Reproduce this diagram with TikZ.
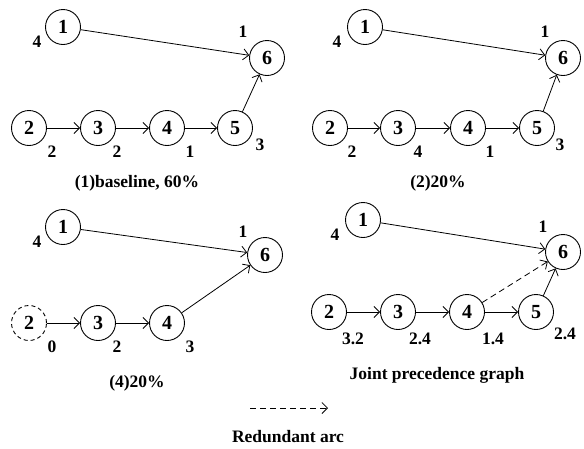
\documentclass[tikz,border=0pt]{standalone}
\usepackage{fontspec}
\setmainfont{Liberation Serif}
\usetikzlibrary{arrows.meta}

\begin{document}
\begin{tikzpicture}[
  x=1pt, y=-1pt,
  font=\bfseries,
  job/.style={draw, circle, line width=0.9pt, minimum size=35pt, inner sep=0pt,
              font=\fontsize{20}{20}\selectfont\bfseries},
  skip/.style={job, dash pattern=on 4pt off 3pt},
  dur/.style={inner sep=0pt, font=\fontsize{17.5}{17.5}\selectfont\bfseries},
  caption/.style={inner sep=0pt, font=\fontsize{17.5}{17.5}\selectfont\bfseries},
  ar/.style={-{Straight Barb[length=5.5pt, width=11pt]}, line width=0.8pt},
  dar/.style={ar, dash pattern=on 6pt off 4pt}]

\useasboundingbox (0,0) rectangle (584,448);

% (1) baseline
\node[job] (a1) at (63,27) {1};
\node[job] (a6) at (267,58) {6};
\node[job] (a2) at (29,128) {2};
\node[job] (a3) at (98,128) {3};
\node[job] (a4) at (167,128) {4};
\node[job] (a5) at (235,128) {5};
\node[dur] (ta1) at (37,42) {4};
\node[dur] (ta6) at (243,32) {1};
\node[dur] (ta2) at (52,152) {2};
\node[dur] (ta3) at (117,152) {2};
\node[dur] (ta4) at (190,152) {1};
\node[dur] (ta5) at (260,145) {3};
\node[caption] (capa) at (137,183) {(1)baseline, 60\%};
\draw[ar] (a1) -- (a6);
\draw[ar] (a2) -- (a3);
\draw[ar] (a3) -- (a4);
\draw[ar] (a4) -- (a5);
\draw[ar] (a5) -- (a6);

% (2)
\node[job] (b1) at (365,27) {1};
\node[job] (b6) at (563,58) {6};
\node[job] (b2) at (330,128) {2};
\node[job] (b3) at (398,128) {3};
\node[job] (b4) at (468,128) {4};
\node[job] (b5) at (537,128) {5};
\node[dur] (tb1) at (337,42) {4};
\node[dur] (tb6) at (545,32) {1};
\node[dur] (tb2) at (352,152) {2};
\node[dur] (tb3) at (418,152) {4};
\node[dur] (tb4) at (490,152) {1};
\node[dur] (tb5) at (560,145) {3};
\node[caption] (capb) at (438,183) {(2)20\%};
\draw[ar] (b1) -- (b6);
\draw[ar] (b2) -- (b3);
\draw[ar] (b3) -- (b4);
\draw[ar] (b4) -- (b5);
\draw[ar] (b5) -- (b6);

% (4)
\node[job] (c1) at (63,227) {1};
\node[job] (c6) at (265,255) {6};
\node[skip] (c2) at (29,323) {2};
\node[job] (c3) at (98,323) {3};
\node[job] (c4) at (167,323) {4};
\node[dur] (tc1) at (37,242) {4};
\node[dur] (tc6) at (243,232) {1};
\node[dur] (tc2) at (52,347) {0};
\node[dur] (tc3) at (117,347) {2};
\node[dur] (tc4) at (190,347) {3};
\node[caption] (capc) at (137,383) {(4)20\%};
\draw[ar] (c1) -- (c6);
\draw[ar] (c2) -- (c3);
\draw[ar] (c3) -- (c4);
\draw[ar] (c4) -- (c6);

% joint graph
\node[job] (d1) at (363,220) {1};
\node[job] (d6) at (563,252) {6};
\node[job] (d2) at (329,312) {2};
\node[job] (d3) at (398,312) {3};
\node[job] (d4) at (467,312) {4};
\node[job] (d5) at (536,312) {5};
\node[dur] (td1) at (335,235) {4};
\node[dur] (td6) at (543,227) {1};
\node[dur] (td2) at (353,339) {3.2};
\node[dur] (td3) at (420,339) {2.4};
\node[dur] (td4) at (493,339) {1.4};
\node[dur] (td5) at (565,334) {2.4};
\node[caption] (capd) at (437,375) {Joint precedence graph};
\draw[ar] (d1) -- (d6);
\draw[ar] (d2) -- (d3);
\draw[ar] (d3) -- (d4);
\draw[ar] (d4) -- (d5);
\draw[ar] (d5) -- (d6);
\draw[dar] (d4) -- (d6);

% legend
\coordinate (lgs) at (250,408);
\coordinate (lge) at (328,408);
\draw[dar] (lgs) -- (lge);
\node[caption] (lgt) at (288,437) {Redundant arc};
\end{tikzpicture}
\end{document}
